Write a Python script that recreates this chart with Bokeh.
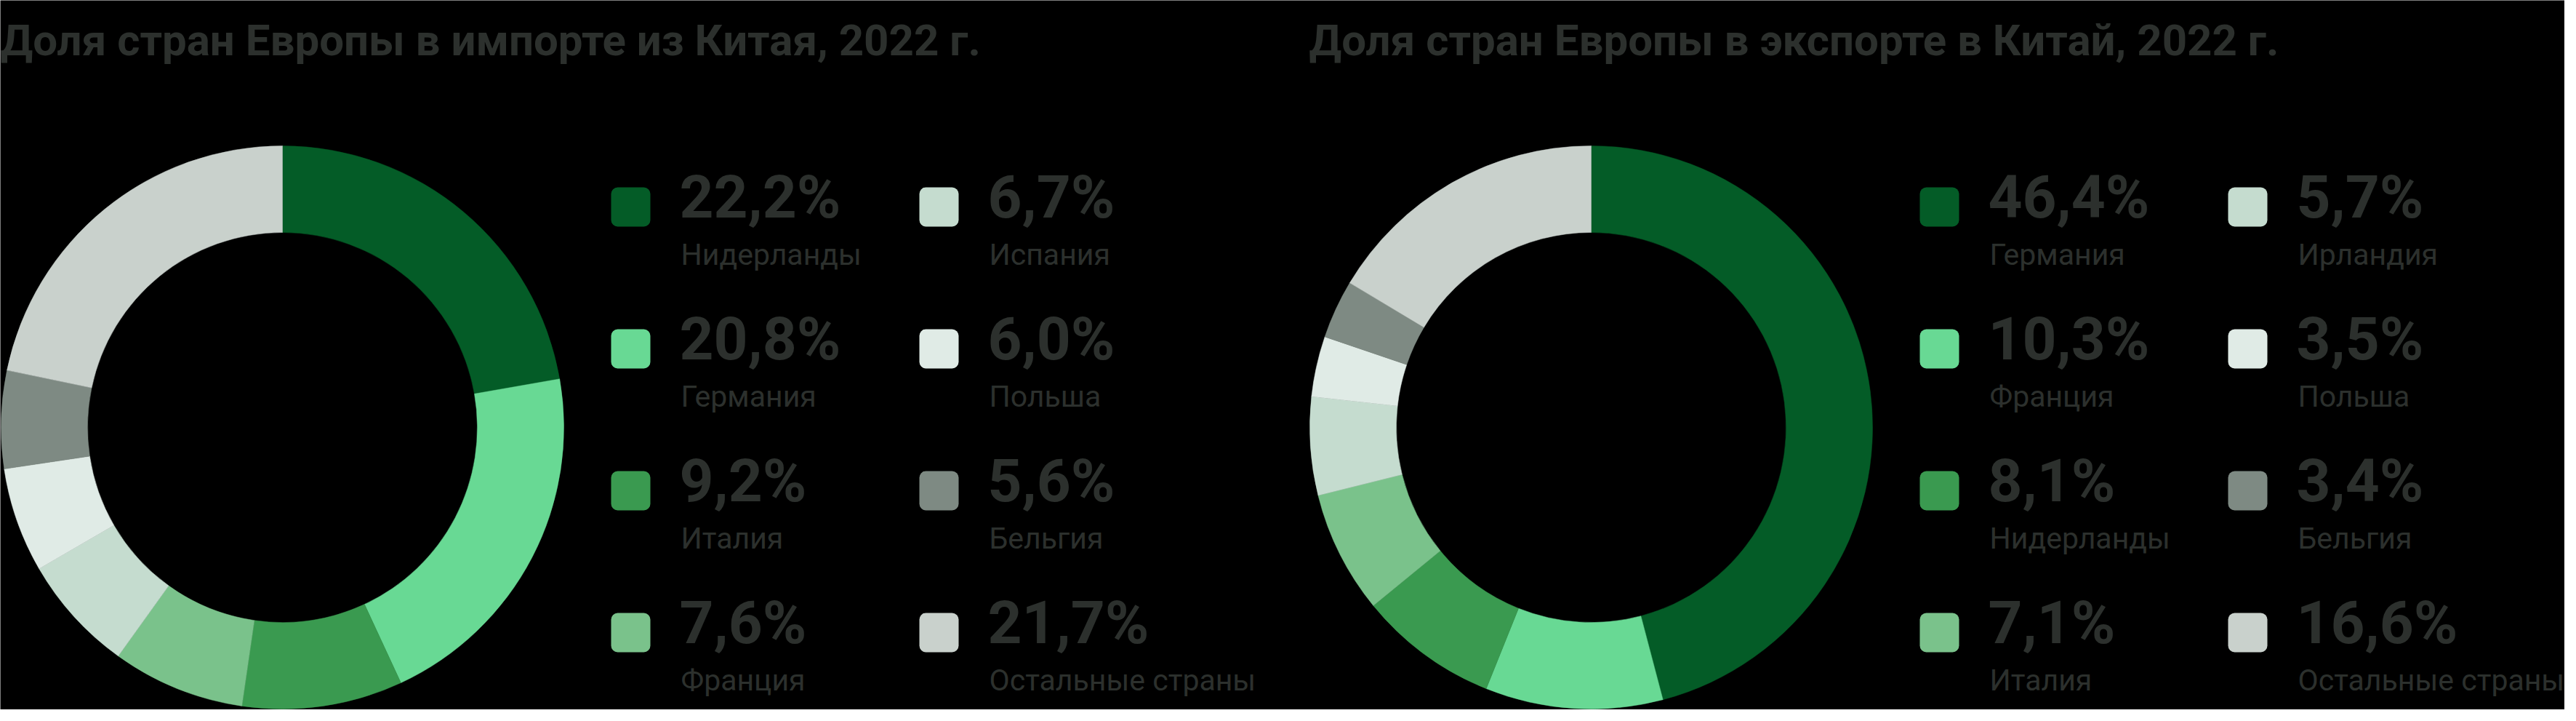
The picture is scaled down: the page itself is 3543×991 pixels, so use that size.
import numpy as np
from bokeh.plotting import figure
from bokeh.models import Range1d, ColumnDataSource
from bokeh.core.properties import value
from bokeh.embed import file_html
from bokeh.resources import INLINE

# ---------------- data ----------------
title_import = "Доля стран Европы в импорте из Китая, 2022 г."
title_export = "Доля стран Европы в экспорте в Китай, 2022 г."

import_countries = ["Нидерланды", "Германия", "Италия", "Франция",
                    "Испания", "Польша", "Бельгия", "Остальные страны"]
import_shares = [22.2, 20.8, 9.2, 7.6, 6.7, 6.0, 5.6, 21.7]

export_countries = ["Германия", "Франция", "Нидерланды", "Италия",
                    "Ирландия", "Польша", "Бельгия", "Остальные страны"]
export_shares = [46.4, 10.3, 8.1, 7.1, 5.7, 3.5, 3.4, 16.6]

colors = ["#045c27", "#68d994", "#3a9a50", "#7ac28b",
          "#c5dccf", "#e0ebe6", "#7e8a83", "#c9d1cc"]

# ---------------- layout ----------------
W, H = 3527, 975
BG = "#000000"
TEXT = "#2c302d"
FONT = "Roboto"

p = figure(width=W, height=H, output_backend="svg", toolbar_location=None,
           x_range=Range1d(0, W), y_range=Range1d(0, H), min_border=0)
p.axis.visible = False
p.grid.visible = False
p.outline_line_color = None
p.background_fill_color = BG
p.border_fill_color = BG


def sy(y):  # screenshot y -> data y
    return 983 - y


def sx(x):  # screenshot x -> data x
    return x - 8


def panel(x0, title, countries, shares):
    # title
    p.text(x=[sx(x0 + 8)], y=[sy(63)], text=[title], text_font=value(FONT),
           text_font_size="60px", text_font_style="bold", text_color=TEXT,
           text_baseline="alphabetic", text_align="left")
    # donut
    vals = np.array(shares, dtype=float)
    frac = vals / vals.sum() * 2 * np.pi
    cum = np.concatenate([[0.0], np.cumsum(frac)])
    src = ColumnDataSource(dict(start=np.pi / 2 - cum[:-1], end=np.pi / 2 - cum[1:],
                                color=colors))
    p.annular_wedge(x=sx(x0 + 396), y=sy(595), inner_radius=268, outer_radius=387,
                    start_angle="start", end_angle="end", direction="clock",
                    fill_color="color", line_color="color", line_width=0.5, source=src)
    # legend
    for i, (c, v) in enumerate(zip(countries, shares)):
        col, row = divmod(i, 4)
        cy = 292 + 195 * row
        lx = x0 + 848 + 424 * col
        p.rect(x=[sx(lx + 27)], y=[sy(cy)], width=54, height=54,
               fill_color=colors[i], line_color=None, border_radius=9)
        p.text(x=[sx(lx + 94)], y=[sy(cy - 14)], text=[f"{v:.1f}%".replace(".", ",")],
               text_font=value(FONT), text_font_size="82px", text_font_style="bold",
               text_color=TEXT, text_baseline="alphabetic", text_align="left")
        p.text(x=[sx(lx + 96)], y=[sy(cy + 65)], text=[c],
               text_font=value(FONT), text_font_size="41px", text_color=TEXT,
               text_baseline="alphabetic", text_align="left")


panel(0, title_import, import_countries, import_shares)
panel(1800, title_export, export_countries, export_shares)

html = file_html(p, INLINE)
html = html.replace("<body>", '<body style="background:#000000;">', 1)
open("out.html", "w").write(html)
